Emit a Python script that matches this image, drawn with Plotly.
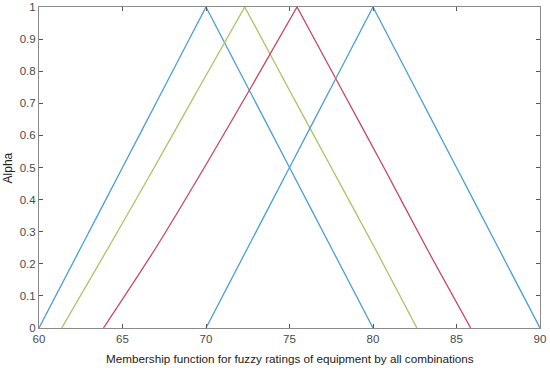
import plotly.graph_objects as go

# alpha levels: rising branch then falling branch
alpha_up = [0, 0.25, 0.5, 0.75, 1]
alpha_down = [1, 0.75, 0.5, 0.25, 0]

# x values at alpha_up (left) and alpha_down (right)
blue1_left = [60, 62.5, 65, 67.5, 70]
blue1_right = [70, 72.5, 75, 77.5, 80]
green_left = [61.36, 64.15, 66.9, 69.6, 72.32]
green_right = [72.32, 74.9, 77.5, 80.1, 82.63]
red_left = [63.86, 67.0, 69.9, 72.7, 75.45]
red_right = [75.45, 78.05, 80.65, 83.2, 85.85]
blue2_left = [70, 72.5, 75, 77.5, 80]
blue2_right = [80, 82.5, 85, 87.5, 90]

xticks = [60, 65, 70, 75, 80, 85, 90]
yticks = [0, 0.1, 0.2, 0.3, 0.4, 0.5, 0.6, 0.7, 0.8, 0.9, 1]
yticklabels = ["0", "0.1", "0.2", "0.3", "0.4", "0.5", "0.6", "0.7", "0.8", "0.9", "1"]

series = [
    (blue1_left, blue1_right, "#4a9fd4"),
    (green_left, green_right, "#a8c464"),
    (red_left, red_right, "#c8456a"),
    (blue2_left, blue2_right, "#4a9fd4"),
]

fig = go.Figure()
for left, right, col in series:
    fig.add_trace(go.Scatter(x=left, y=alpha_up, mode="lines",
                             line=dict(color=col, width=1.3, shape="spline", smoothing=0.8)))
    fig.add_trace(go.Scatter(x=right, y=alpha_down, mode="lines",
                             line=dict(color=col, width=1.3, shape="spline", smoothing=0.8)))

font_family = "Liberation Sans, Arial, sans-serif"
axis_common = dict(
    showline=True, linecolor="#8a8a8a", linewidth=1, mirror="ticks",
    ticks="inside", ticklen=4, tickcolor="#555555", showgrid=False,
    zeroline=False, automargin=False,
    tickfont=dict(family=font_family, size=11.5, color="#4a4a4a"),
)

fig.update_layout(
    width=550, height=368,
    margin=dict(l=39, r=10, t=7, b=40, pad=0),
    paper_bgcolor="white", plot_bgcolor="white",
    showlegend=False,
    xaxis=dict(range=[60, 90], tickvals=xticks, **axis_common),
    yaxis=dict(range=[0, 1], tickvals=yticks, ticktext=yticklabels, **axis_common),
    annotations=[
        dict(text="Membership function for fuzzy ratings of equipment by all combinations",
             xref="paper", yref="paper", x=0.5, y=-0.068, yanchor="top", showarrow=False,
             font=dict(family=font_family, size=11.7, color="#222222")),
        dict(text="Alpha", xref="paper", yref="paper", x=-0.062, y=0.5, textangle=-90,
             xanchor="center", yanchor="middle", showarrow=False,
             font=dict(family=font_family, size=12, color="#222222")),
    ],
)

fig.write_html("out.html", config={"displayModeBar": False},
               post_script="document.body.style.margin='0';document.body.style.overflow='hidden';")
